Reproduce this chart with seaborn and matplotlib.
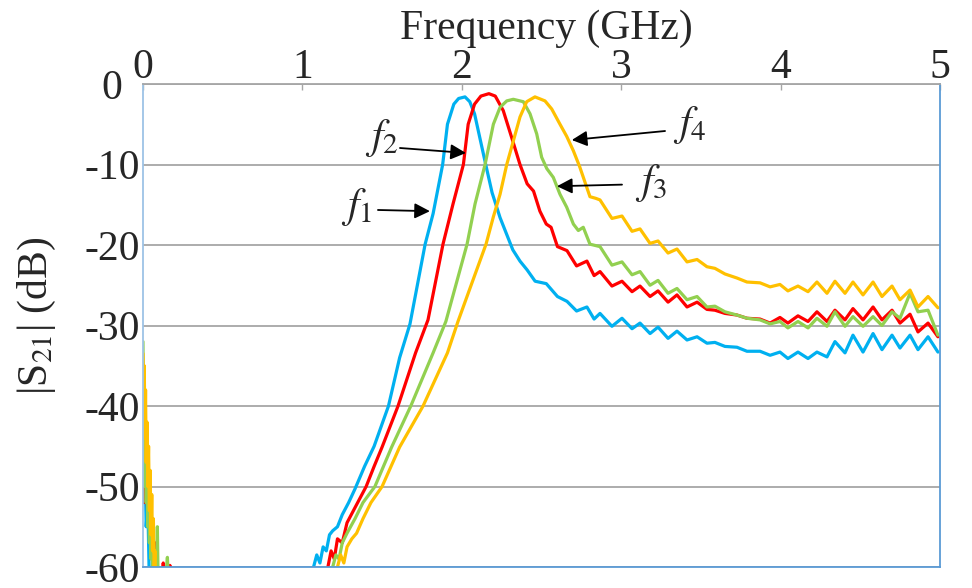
import numpy as np
import pandas as pd
import matplotlib
matplotlib.use("Agg")
import matplotlib.pyplot as plt
import seaborn as sns

# ---------------- data ----------------
series_names = ["f1", "f2", "f3", "f4"]
series_colors = ["#00B0F0", "#FF0000", "#92D050", "#FFC000"]

# low-frequency noisy spikes (below -60 dB is clipped)
f1_lf_freq = [0.0, 0.005, 0.01, 0.02, 0.03, 0.04]
f1_lf_db = [-40, -50, -45, -55, -52, -62]
f2_lf_freq = [0.0, 0.005, 0.01, 0.015, 0.02, 0.03, 0.04, 0.05, 0.06, 0.07, 0.08, 0.09,
              0.12, 0.127, 0.135, 0.16, 0.169, 0.178]
f2_lf_db = [-38, -52, -44, -50, -47, -54, -52, -57, -55, -59, -57, -62,
            -62, -59.5, -62, -62, -59.8, -62]
f3_lf_freq = [0.0, 0.004, 0.008, 0.012, 0.016, 0.02, 0.025, 0.03, 0.035, 0.04, 0.045,
              0.05, 0.055, 0.06, 0.065, 0.07, 0.08, 0.085, 0.09, 0.095, 0.14, 0.153, 0.16]
f3_lf_db = [-32, -45, -36, -50, -42, -52, -46, -55, -48, -57, -52,
            -59, -55, -61, -56, -62, -62, -62, -55, -62, -62, -58.8, -62]
f4_lf_freq = [0.0, 0.004, 0.008, 0.012, 0.016, 0.02, 0.025, 0.03, 0.035, 0.04, 0.045,
              0.05, 0.055, 0.06, 0.065, 0.07, 0.075, 0.08]
f4_lf_db = [-33.5, -40, -35, -44, -38, -47, -42, -50, -45, -53, -48,
            -56, -51, -58, -54, -60, -58, -62]

# main passband region
f1_freq = [1.05, 1.07, 1.09, 1.11, 1.13, 1.15, 1.17, 1.19, 1.22, 1.25, 1.29, 1.33, 1.39,
           1.45, 1.54, 1.61, 1.675, 1.77, 1.82, 1.88, 1.91, 1.95, 1.98, 2.02, 2.05, 2.08,
           2.12, 2.15, 2.19, 2.24, 2.28, 2.32, 2.365, 2.41, 2.46, 2.53, 2.60, 2.66, 2.72,
           2.785, 2.83]
f1_db = [-62, -60, -58.5, -59.5, -57.5, -58, -56, -55.5, -55, -53.5, -52, -50.3, -47.5,
         -45, -40, -34, -29.8, -19.9, -16.1, -10, -5, -2.5, -1.8, -1.6, -2.2, -3.7,
         -7.3, -10, -13.5, -16.6, -18.6, -20.6, -22, -23.1, -24.5, -24.8, -26.4, -27,
         -28.2, -27.7, -29.2]

f2_freq = [1.14, 1.16, 1.18, 1.20, 1.22, 1.25, 1.28, 1.32, 1.36, 1.40, 1.45, 1.50, 1.60,
           1.71, 1.788, 1.882, 1.945, 2.01, 2.04, 2.08, 2.12, 2.17, 2.21, 2.26, 2.32, 2.365,
           2.41, 2.45, 2.49, 2.53, 2.56, 2.60, 2.66, 2.72, 2.785, 2.83]
f2_db = [-62, -60, -58, -59, -56.5, -57, -54.5, -53, -51.5, -50, -47.5, -45.1, -40,
         -33.4, -29.3, -19.9, -14.9, -10, -5, -2.5, -1.5, -1.2, -1.5, -3.3, -7.1, -10,
         -12.4, -13.3, -15.8, -17.4, -17.8, -20.2, -20.7, -22.6, -22, -23.8]

f3_freq = [1.17, 1.19, 1.21, 1.23, 1.25, 1.28, 1.33, 1.38, 1.455, 1.56, 1.68, 1.82, 1.90,
           2.033, 2.083, 2.146, 2.198, 2.24, 2.282, 2.323, 2.386, 2.428, 2.47, 2.501, 2.533,
           2.574, 2.616, 2.658, 2.70, 2.731, 2.762, 2.804]
f3_db = [-62, -60, -58.5, -59, -57, -55.8, -54, -52, -50, -45.1, -40, -33.4, -29.5,
         -19.9, -14.9, -10, -5, -2.9, -2.1, -1.9, -2.2, -3.7, -6.2, -9.1, -10.5,
         -11.6, -13.7, -15.3, -17.4, -18.2, -17.8, -19.9]

f4_freq = [1.20, 1.22, 1.24, 1.26, 1.28, 1.31, 1.34, 1.38, 1.43, 1.50, 1.61, 1.757, 1.91,
           1.976, 2.062, 2.152, 2.198, 2.24, 2.282, 2.323, 2.365, 2.407, 2.459, 2.522,
           2.564, 2.616, 2.658, 2.70, 2.74, 2.804, 2.84]
f4_db = [-62, -60, -58.5, -59.5, -57.5, -56.5, -55.8, -54, -52, -50, -45.1, -40, -33.4,
         -29.5, -24.8, -19.9, -16.5, -13.7, -10, -7.1, -4.1, -2.2, -1.6, -2.1,
         -3.1, -5, -6.5, -8.3, -10.3, -14, -14.2]

# ripple tail (common frequency grid)
tail_freq = [2.867, 2.942, 3.005, 3.068, 3.118, 3.181, 3.231, 3.294, 3.350, 3.413, 3.476,
             3.538, 3.588, 3.651, 3.726, 3.789, 3.871, 3.934, 3.996, 4.046, 4.109, 4.172,
             4.228, 4.291, 4.341, 4.404, 4.454, 4.517, 4.580, 4.636, 4.699, 4.749, 4.812,
             4.862, 4.925, 4.987]
f1_tail = [-28.5, -30.1, -29.1, -30.4, -29.7, -31.0, -30.2, -31.6, -30.7, -31.8, -31.4,
           -32.2, -32.1, -32.6, -32.7, -33.2, -33.2, -33.7, -33.3, -34.1, -33.3, -34.1,
           -33.3, -33.9, -32.0, -33.4, -31.2, -33.3, -31.0, -33.0, -31.2, -32.8, -31.2,
           -33.0, -31.4, -33.3]
f2_tail = [-23.3, -25.1, -24.5, -25.8, -25.1, -26.4, -25.7, -27.1, -26.2, -27.7, -27.1,
           -28.0, -28.1, -28.5, -28.7, -29.1, -29.2, -29.7, -29.0, -29.7, -28.8, -29.5,
           -28.3, -29.5, -28.1, -29.3, -27.9, -29.3, -27.7, -29.3, -28.1, -29.7, -28.6,
           -30.8, -29.7, -31.4]
f3_tail = [-20.2, -22.5, -22.1, -23.7, -23.3, -25.0, -24.4, -26.0, -25.4, -26.8, -26.4,
           -27.7, -27.6, -28.3, -28.7, -29.1, -29.3, -29.8, -29.5, -30.3, -29.5, -30.3,
           -29.1, -30.1, -28.3, -30.1, -28.9, -30.1, -28.9, -30.0, -28.3, -29.1, -26.0,
           -28.3, -28.1, -31.2]
f4_tail = [-14.4, -16.7, -16.4, -18.3, -18.0, -19.8, -19.5, -21.0, -20.5, -22.1, -21.8,
           -22.7, -22.9, -23.6, -24.1, -24.6, -24.7, -25.2, -24.9, -25.7, -25.1, -25.8,
           -24.6, -26.0, -24.5, -26.0, -24.6, -26.2, -24.6, -26.4, -25.1, -26.8, -25.6,
           -27.7, -26.4, -27.8]

x_ticks = [0, 1, 2, 3, 4, 5]
y_ticks = [0, -10, -20, -30, -40, -50, -60]

# ---------------- build long table ----------------
parts = [
    ("f1", f1_lf_freq, f1_lf_db, f1_freq + tail_freq, f1_db + f1_tail),
    ("f2", f2_lf_freq, f2_lf_db, f2_freq + tail_freq, f2_db + f2_tail),
    ("f3", f3_lf_freq, f3_lf_db, f3_freq + tail_freq, f3_db + f3_tail),
    ("f4", f4_lf_freq, f4_lf_db, f4_freq + tail_freq, f4_db + f4_tail),
]
frames = []
for name, lf_f, lf_d, mf, md in parts:
    frames.append(pd.DataFrame({"freq": lf_f, "db": lf_d, "series": name, "seg": name + "_lf"}))
    frames.append(pd.DataFrame({"freq": mf, "db": md, "series": name, "seg": name + "_main"}))
df = pd.concat(frames, ignore_index=True)

# ---------------- plot ----------------
sns.set_theme(style="white")
plt.rcParams["font.family"] = ["Liberation Serif", "DejaVu Serif"]
plt.rcParams["mathtext.fontset"] = "stix"
plt.rcParams["axes.unicode_minus"] = False

fig = plt.figure(figsize=(9.72, 5.88), dpi=100)
ax = fig.add_axes([143 / 972, 1 - 567 / 588, 797 / 972, 483 / 588])

sns.lineplot(data=df, x="freq", y="db", hue="series", units="seg", estimator=None,
             sort=False, hue_order=series_names, palette=series_colors,
             linewidth=2.3, legend=False, ax=ax)

ax.set_xlim(0, 5)
ax.set_ylim(-60, 0)
ax.set_xticks(x_ticks)
ax.set_xticklabels([str(t) for t in x_ticks])
ax.set_yticks(y_ticks)
ax.set_yticklabels([str(t) for t in y_ticks])
ax.set_axisbelow(True)
ax.yaxis.grid(True, color="#A6A6A6", linewidth=1.3)
ax.xaxis.grid(False)

ax.xaxis.tick_top()
ax.xaxis.set_label_position("top")
ax.tick_params(axis="x", direction="in", length=4, width=1, color="#A6A6A6",
               labelsize=30, pad=-2, top=True, bottom=False)
ax.tick_params(axis="y", length=0, labelsize=30, pad=0)
for lab in ax.get_yticklabels():
    lab.set_horizontalalignment("center")
    lab.set_x(-0.039)

ax.set_xlabel("Frequency (GHz)", fontsize=30, va="center")
ax.xaxis.set_label_coords(0.506, 1.114)
ax.set_ylabel(r"|S$_{\mathrm{21}}$| (dB)", fontsize=30, va="center")
ax.yaxis.set_label_coords(-0.133, 0.52)

ax.spines["top"].set_color("#A6A6A6")
ax.spines["left"].set_color("#9DC3E6")
ax.spines["right"].set_color("#5B9BD5")
ax.spines["bottom"].set_color("#5B9BD5")
for s in ax.spines.values():
    s.set_linewidth(1.3)
    s.set_visible(True)

# annotations
labels = [r"$f_1$", r"$f_2$", r"$f_3$", r"$f_4$"]
text_pos = [(1.343, -15.3), (1.50, -6.7), (3.19, -12.3), (3.43, -5.1)]
arrow_tail = [(1.474, -15.65), (1.612, -7.95), (3.005, -12.5), (3.275, -5.84)]
arrow_tip = [(1.80, -15.8), (2.026, -8.57), (2.597, -12.7), (2.69, -6.96)]
for lab, tp, tl, tip in zip(labels, text_pos, arrow_tail, arrow_tip):
    ax.text(tp[0], tp[1], lab, fontsize=30, ha="center", va="center")
    ax.annotate("", xy=tip, xytext=tl,
                arrowprops=dict(arrowstyle="-|>", color="black", lw=1.3,
                                mutation_scale=23, shrinkA=0, shrinkB=0))

fig.savefig("out.png", dpi=100)
